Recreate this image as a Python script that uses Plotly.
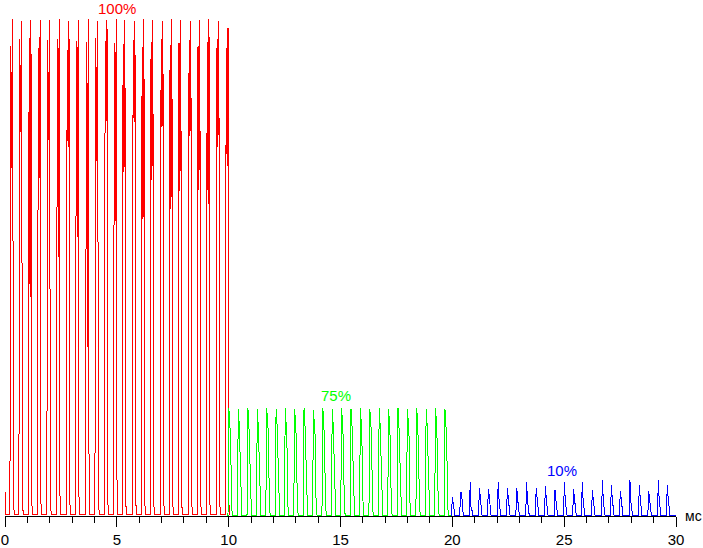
import plotly.graph_objects as go

# ---------------- data ----------------
sample_ms = 0.04           # spacing of the scope samples (about one pixel)

# 100 % segment (0-10 ms): one entry per light pulse
red_pulse_ms = [0.30, 0.70, 1.12, 1.53, 1.95, 2.38, 2.82, 3.23, 3.68, 4.10, 4.52, 4.93,
                5.32, 5.77, 6.17, 6.57, 7.02, 7.42, 7.82, 8.27, 8.67, 9.08, 9.52, 9.93]
red_rise = [0.944, 0.958, 0.960, 0.940, 0.956, 0.958, 0.936, 0.954, 0.952, 0.960, 0.954, 0.950,
            0.948, 0.956, 0.942, 0.952, 0.958, 0.946, 0.950, 0.956, 0.944, 0.952, 0.958, 0.940]
red_dip = [0.699, 0.771, 0.440, 0.679, 0.755, 0.520, 0.741, 0.560, 0.340, 0.713, 0.793, 0.592,
           0.691, 0.791, 0.596, 0.675, 0.781, 0.616, 0.653, 0.763, 0.655, 0.627, 0.741, 0.703]
red_peak = [0.998, 0.994, 0.996, 0.996, 0.996, 0.998, 0.994, 0.996, 0.998, 0.994, 0.996, 0.998,
            0.996, 0.994, 0.998, 0.996, 0.994, 0.998, 0.996, 0.994, 0.996, 0.998, 0.994, 0.980]
red_lead_ms = [0.0, 0.04]
red_lead_val = [0.048, 0.003]
red_floor = 0.003

# 75 % segment (10-20 ms)
green_pulse_ms = [10.01, 10.43, 10.86, 11.28, 11.70, 12.12, 12.53, 12.95, 13.37, 13.79, 14.21, 14.63,
                  15.05, 15.47, 15.89, 16.31, 16.73, 17.15, 17.57, 17.99, 18.41, 18.83, 19.25, 19.67]
green_peak = [0.216, 0.214, 0.216, 0.215, 0.217, 0.214, 0.216, 0.215, 0.216, 0.213, 0.216, 0.215,
              0.217, 0.214, 0.216, 0.215, 0.216, 0.214, 0.217, 0.215, 0.216, 0.214, 0.216, 0.215]
green_shoulder = [0.186, 0.185, 0.189, 0.183, 0.186, 0.188, 0.184, 0.187, 0.185, 0.183, 0.188, 0.186,
                  0.184, 0.187, 0.185, 0.189, 0.183, 0.186, 0.185, 0.188, 0.184, 0.186, 0.187, 0.185]
green_step = [0.153, 0.125, 0.106, 0.100, 0.165, 0.125, 0.135, 0.149, 0.106, 0.159, 0.140, 0.120,
              0.150, 0.110, 0.130, 0.160, 0.120, 0.145, 0.115, 0.155, 0.130, 0.105, 0.140, 0.150]
green_floor = 0.001

# 10 % segment (20-30 ms)
blue_pulse_ms = [20.00, 20.37, 20.80, 21.21, 21.61, 22.05, 22.46, 22.88, 23.32, 23.75, 24.16, 24.59,
                 25.01, 25.42, 25.81, 26.26, 26.71, 27.11, 27.51, 27.94, 28.36, 28.78, 29.21, 29.61]
blue_peak = [0.038, 0.048, 0.068, 0.056, 0.054, 0.068, 0.056, 0.056, 0.068, 0.056, 0.060, 0.052,
             0.068, 0.054, 0.068, 0.052, 0.072, 0.062, 0.050, 0.072, 0.062, 0.050, 0.072, 0.062]
blue_shoulder = [0.028, 0.048, 0.012, 0.036, 0.040, 0.030, 0.036, 0.034, 0.030, 0.036, 0.034, 0.032,
                 0.030, 0.036, 0.030, 0.034, 0.030, 0.036, 0.034, 0.030, 0.036, 0.034, 0.030, 0.036]
blue_floor = 0.001

segment_labels = ["100%", "75%", "10%"]
segment_centers_ms = [5.0, 14.8, 24.9]
label_levels = [1.036, 0.241, 0.092]
label_anchor = ["top", "middle", "middle"]
label_shift = [1, 0, 0]
colors = ["#ff0000", "#00ff00", "#0000ff"]

tick_values = [0, 5, 10, 15, 20, 25, 30]
tick_labels = ["0", "5", "10", "15", "20", "25", "30"]
unit_label = "мс"


def build(pulse_ms, columns, start_ms, end_ms, lead_ms=None, lead_val=None, floor=0.0):
    """columns: list of (sample offset, per-pulse values or a single level)."""
    xs, ys = [], []
    if lead_ms:
        xs += list(lead_ms)
        ys += list(lead_val)
    else:
        xs.append(start_ms)
        ys.append(floor)
    for i, t in enumerate(pulse_ms):
        for off, vals in columns:
            xs.append(t + off * sample_ms)
            ys.append(vals[i] if isinstance(vals, list) else vals)
    xs.append(end_ms)
    ys.append(floor)
    return xs, ys


red_x, red_y = build(red_pulse_ms,
                     [(-2, red_floor), (-1, red_rise), (0, red_dip),
                      (1, red_peak), (2, 0.025), (3, red_floor)],
                     0.0, 10.05, red_lead_ms, red_lead_val, red_floor)
green_x, green_y = build(green_pulse_ms,
                         [(-1, green_floor), (0, green_peak), (1, green_shoulder),
                          (2, green_step), (3, 0.02), (4, green_floor)],
                         10.0, 20.0, floor=green_floor)
blue_x, blue_y = build(blue_pulse_ms,
                       [(-1, blue_floor), (0, blue_peak), (1, blue_shoulder),
                        (2, 0.012), (3, blue_floor)],
                       20.0, 30.0, floor=blue_floor)

fig = go.Figure()
for (xx, yy), c in zip([(red_x, red_y), (green_x, green_y), (blue_x, blue_y)], colors):
    fig.add_trace(go.Scatter(x=xx, y=yy, mode="lines", line=dict(color=c, width=1),
                             hoverinfo="skip", showlegend=False))

font_family = "Liberation Sans, Arial, sans-serif"
for txt, xm, yl, anc, sh, c in zip(segment_labels, segment_centers_ms, label_levels,
                                   label_anchor, label_shift, colors):
    fig.add_annotation(x=xm, y=yl, text=txt, showarrow=False, yshift=sh,
                       font=dict(family=font_family, size=15, color=c),
                       xanchor="center", yanchor=anc, borderpad=0)

fig.add_annotation(xref="paper", yref="paper", x=1, y=0, text=unit_label, showarrow=False,
                   xanchor="left", yanchor="middle", xshift=7,
                   font=dict(family=font_family, size=14, color="black"))

fig.update_layout(
    width=703, height=548,
    margin=dict(l=5, r=27, t=0, b=28, pad=0),
    paper_bgcolor="white", plot_bgcolor="white",
    showlegend=False,
    xaxis=dict(range=[0, 30], showline=True, linecolor="black", linewidth=1,
               ticks="outside", ticklen=10, tickcolor="black", tickwidth=1,
               tickvals=tick_values, ticktext=tick_labels,
               showgrid=False, zeroline=False,
               tickfont=dict(family=font_family, size=15, color="black"),
               minor=dict(dtick=1, tick0=0, ticks="outside", ticklen=6,
                          tickcolor="black", showgrid=False)),
    yaxis=dict(range=[0, 1.036], visible=False, showgrid=False, zeroline=False),
)

post = ("document.body.style.margin='0';"
        "var s=document.createElement('style');"
        "s.textContent='.scatterlayer path{shape-rendering:crispEdges}';"
        "document.head.appendChild(s);")
fig.write_html("out.html", post_script=post, config={"displayModeBar": False})
